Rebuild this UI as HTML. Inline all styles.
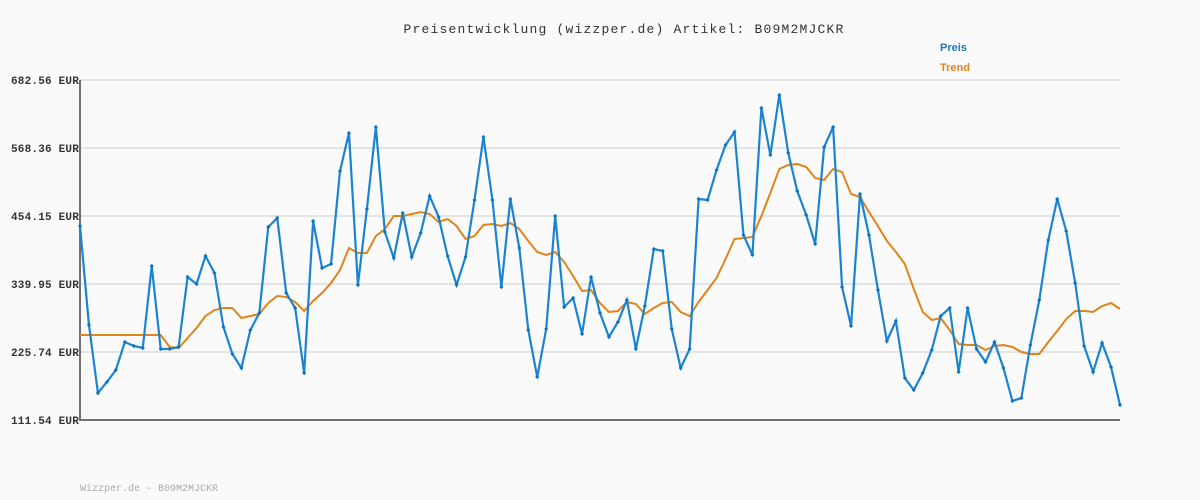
<!DOCTYPE html>
<html><head><style>body{margin:0;background:#fafafa}svg{display:block}</style></head><body>
<svg width="1200" height="500" xmlns="http://www.w3.org/2000/svg" font-family="Liberation Mono, DejaVu Sans Mono, monospace">
<defs><marker id="m" viewBox="-3 -3 6 6" markerWidth="5" markerHeight="5" refX="0" refY="0" markerUnits="userSpaceOnUse"><path d="M0-2.5L2.5 0 0 2.5-2.5 0Z" fill="#0a74c4"/></marker></defs>
<rect width="1200" height="500" fill="#fafafa"/>
<text x="624" y="33" text-anchor="middle" font-size="13" letter-spacing="1.2" fill="#333">Preisentwicklung (wizzper.de) Artikel: B09M2MJCKR</text>
<text x="940" y="51" font-size="11" font-weight="bold" fill="#1a7ac8" font-family="Liberation Sans, sans-serif">Preis</text>
<text x="940" y="71" font-size="11" font-weight="bold" fill="#e0841c" font-family="Liberation Sans, sans-serif">Trend</text>
<g stroke="#e4e4e4" stroke-width="2">
<line x1="80" y1="80" x2="1120" y2="80"/><line x1="80" y1="148" x2="1120" y2="148"/><line x1="80" y1="216" x2="1120" y2="216"/><line x1="80" y1="284" x2="1120" y2="284"/><line x1="80" y1="352" x2="1120" y2="352"/></g>
<g font-size="11" fill="#333" text-anchor="end" font-weight="bold" letter-spacing="0.2">
<text x="79" y="84">682.56 EUR</text><text x="79" y="152">568.36 EUR</text><text x="79" y="220">454.15 EUR</text><text x="79" y="288">339.95 EUR</text><text x="79" y="356">225.74 EUR</text><text x="79" y="424">111.54 EUR</text></g>
<path d="M80 80V420H1120" fill="none" stroke="#707070" stroke-width="2"/>
<g transform="translate(80,0) scale(0.99617,1) translate(-80,0)" fill="none" stroke-width="2">
<polyline stroke="#e0841c" points="80,335 161,335 170,347 179,348 188,338 197,328 206,316 215,310 224,308 233,308 242,318 251,316 260,314 269,303 278,296 287,297 296,302 305,311 314,301 323,293 332,283 341,270 350,248 359,253 368,253 377,236 386,229 395,216 404,216 413,214 422,212 431,214 440,222 449,219 458,226 467,239 476,236 485,225 494,224 503,226 512,223 521,229 530,241 539,252 548,255 557,252 566,262 575,276 584,291 593,290 602,303 611,312 620,311 629,302 638,304 647,314 656,308 665,303 674,302 683,312 692,316 701,302 710,290 719,278 728,259 737,239 746,238 755,237 764,216 773,193 782,169 791,165 800,164 809,167 818,178 827,180 836,169 845,172 854,194 863,197 872,212 881,226 890,241 899,252 908,264 917,289 926,312 935,320 944,318 953,330 962,344 971,345 980,345 989,350 998,346 1007,345 1016,347 1025,352 1034,354 1043,354 1052,342 1061,331 1070,319 1079,311 1088,311 1097,312 1106,306 1115,303 1124,309"/>
<polyline stroke="#1a84d0" stroke-width="2.2" marker-start="url(#m)" marker-mid="url(#m)" marker-end="url(#m)" points="80,226 89,325 98,393 107,382 116,370 125,342 134,346 143,348 152,266 161,349 170,349 179,347 188,277 197,284 206,256 215,273 224,327 233,354 242,368 251,330 260,313 269,227 278,218 287,293 296,308 305,373 314,221 323,268 332,264 341,171 350,133 359,285 368,209 377,127 386,232 395,258 404,213 413,257 422,233 431,196 440,217 449,256 458,285 467,257 476,200 485,137 494,200 503,287 512,199 521,248 530,330 539,377 548,329 557,216 566,307 575,298 584,334 593,277 602,313 611,337 620,322 629,300 638,349 647,306 656,249 665,251 674,329 683,368 692,349 701,199 710,200 719,170 728,145 737,132 746,235 755,255 764,108 773,155 782,95 791,153 800,191 809,215 818,244 827,147 836,127 845,287 854,326 863,194 872,235 881,290 890,341 899,321 908,378 917,390 926,373 935,350 944,316 953,308 962,372 971,308 980,349 989,362 998,342 1007,368 1016,401 1025,398 1034,345 1043,300 1052,240 1061,199 1070,231 1079,283 1088,346 1097,372 1106,343 1115,367 1124,405"/>
</g>
<text x="80" y="491" font-size="10" fill="#aaa">Wizzper.de - B09M2MJCKR</text>
</svg>
</body></html>
